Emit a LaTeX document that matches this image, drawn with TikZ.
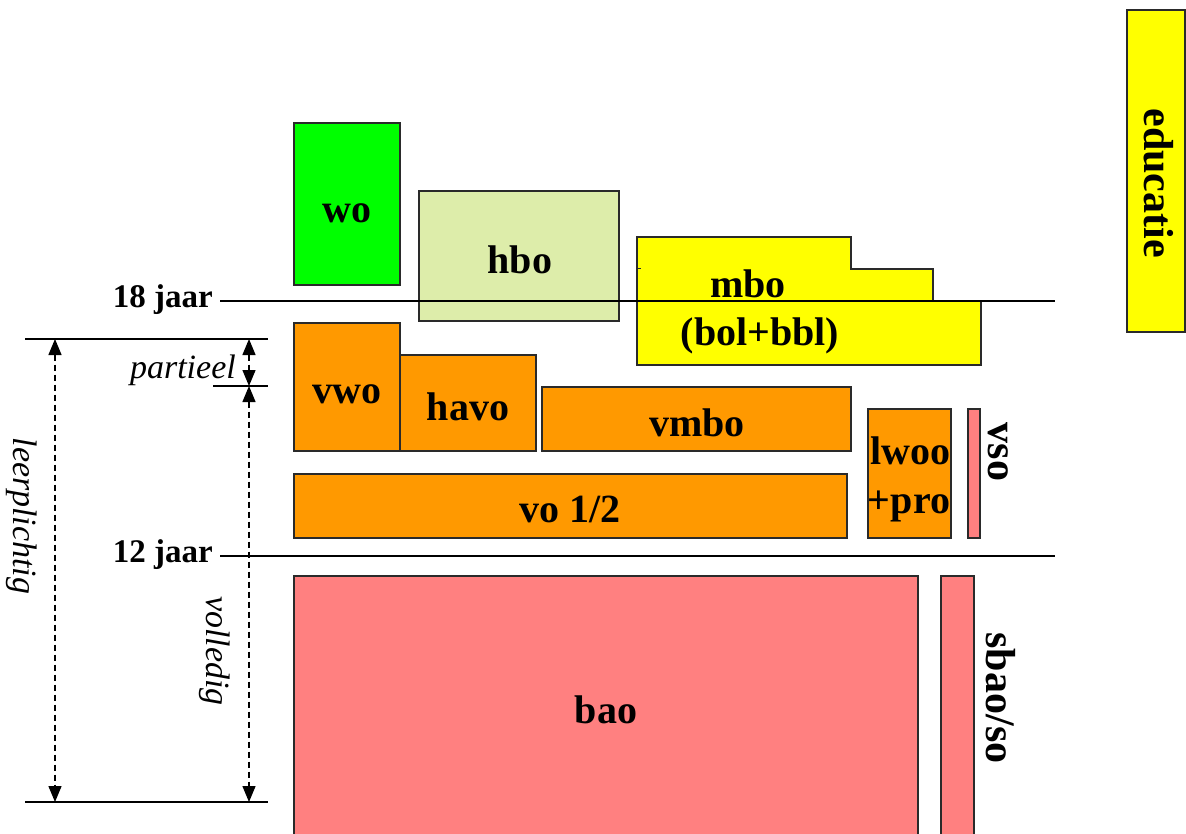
\documentclass[tikz,border=0pt]{standalone}
\usepackage{fontspec}
\setmainfont{Liberation Serif}
\usetikzlibrary{arrows.meta}
\definecolor{orangebox}{HTML}{FF9900}
\definecolor{salmonbox}{HTML}{FF8080}
\definecolor{hbogreen}{HTML}{DDEDAA}
\definecolor{wogreen}{HTML}{00FF00}
\definecolor{ybox}{HTML}{FFFF00}
\definecolor{edge}{HTML}{2A2A2A}
\tikzset{
 box/.style={draw=edge, line width=1.2pt, inner sep=0pt, outer sep=0pt, anchor=north west},
 lbl/.style={font=\fontsize{40}{44}\selectfont\bfseries, inner sep=0pt},
 rlbl/.style={font=\fontsize{42}{46}\selectfont\bfseries, inner sep=0pt, rotate=-90},
 agelbl/.style={font=\fontsize{33}{36}\selectfont\bfseries, inner sep=0pt, anchor=base east},
 ital/.style={font=\fontsize{34}{38}\selectfont\itshape, inner sep=0pt},
 dimarrow/.style={dash pattern=on 6pt off 4pt, line width=1.4pt, {Triangle[width=13pt,length=16pt]}-{Triangle[width=13pt,length=16pt]}},
 rule/.style={line width=1.3pt, draw=black},
}
\begin{document}
\begin{tikzpicture}[x=1pt,y=-1pt]
\useasboundingbox (0,0) rectangle (1186,833);
% upper boxes
\node[box, fill=wogreen, minimum width=106pt, minimum height=162pt] (wo) at (294,123) {};
\node[box, fill=hbogreen, minimum width=200pt, minimum height=130pt] (hbo) at (419,191) {};
\draw[draw=edge, line width=1.2pt, fill=ybox] (637,237) -- (851,237) -- (851,269) -- (933,269) -- (933,301) -- (981,301) -- (981,365) -- (637,365) -- cycle;
\coordinate (mbotick) at (637,268);
\coordinate (mbotickb) at (641,268);
\draw[draw=edge, line width=1pt] (mbotick) -- (mbotickb);
\node[box, fill=ybox, minimum width=58pt, minimum height=322pt] (edu) at (1127,10) {};
% vo boxes
\node[box, fill=orangebox, minimum width=106pt, minimum height=128pt] (vwo) at (294,323) {};
\node[box, fill=orangebox, minimum width=136pt, minimum height=96pt] (havo) at (400,355) {};
\node[box, fill=orangebox, minimum width=309pt, minimum height=64pt] (vmbo) at (542,387) {};
\node[box, fill=orangebox, minimum width=553pt, minimum height=64pt] (vo) at (294,474) {};
\node[box, fill=orangebox, minimum width=83pt, minimum height=129pt] (lwoo) at (868,409) {};
\node[box, fill=salmonbox, minimum width=12pt, minimum height=129pt] (vso) at (968,409) {};
% primary
\node[box, fill=salmonbox, minimum width=624pt, minimum height=270pt] (bao) at (294,576) {};
\node[box, fill=salmonbox, minimum width=33pt, minimum height=270pt] (sbao) at (941,576) {};
% labels
\node[lbl, anchor=base] (wot) at (347,222) {wo};
\node[lbl, anchor=base] (hbot) at (520,273) {hbo};
\node[lbl, anchor=base] (mbot) at (748,297) {mbo};
\node[lbl, anchor=base] (bolt) at (760,345) {(bol+bbl)};
\node[lbl, anchor=base] (vwot) at (347,403) {vwo};
\node[lbl, anchor=base] (havot) at (468,420) {havo};
\node[lbl, anchor=base] (vmbot) at (697,436) {vmbo};
\node[lbl, anchor=base] (vot) at (570,522) {vo 1/2};
\node[lbl, anchor=base] (lwoot) at (910,464) {lwoo};
\node[lbl, anchor=base] (prot) at (909,513) {+pro};
\node[lbl, anchor=base] (baot) at (606,723) {bao};
\node[rlbl] (vsot) at (998,452) {vso};
\node[rlbl] (sbaot) at (1001,698) {sbao/so};
\node[rlbl] (edut) at (1159,183) {educatie};
% age lines
\coordinate (l18a) at (220,301);
\coordinate (l18b) at (1055,301);
\coordinate (l12a) at (220,556);
\coordinate (l12b) at (1055,556);
\draw[rule] (l18a) -- (l18b);
\draw[rule] (l12a) -- (l12b);
\node[agelbl] (a18) at (213,307) {18 jaar};
\node[agelbl] (a12) at (213,562) {12 jaar};
% dimension lines
\coordinate (t1) at (25,339);
\coordinate (t2) at (268,339);
\coordinate (b1) at (25,802);
\coordinate (b2) at (268,802);
\coordinate (p1) at (213,386);
\coordinate (p2) at (268,386);
\draw[rule] (t1) -- (t2);
\draw[rule] (b1) -- (b2);
\draw[rule] (p1) -- (p2);
\coordinate (lpt) at (55,339);
\coordinate (lpb) at (55,802);
\coordinate (pat) at (249,339);
\coordinate (pam) at (249,386);
\coordinate (pab) at (249,802);
\draw[dimarrow] (lpt) -- (lpb);
\draw[dimarrow] (pat) -- (pam);
\draw[dimarrow] (pam) -- (pab);
\node[ital, anchor=base east] (partt) at (236,378) {partieel};
\node[ital, rotate=-90] (leert) at (22,516) {leerplichtig};
\node[ital, rotate=-90] (volt) at (215,651) {volledig};
\end{tikzpicture}
\end{document}
